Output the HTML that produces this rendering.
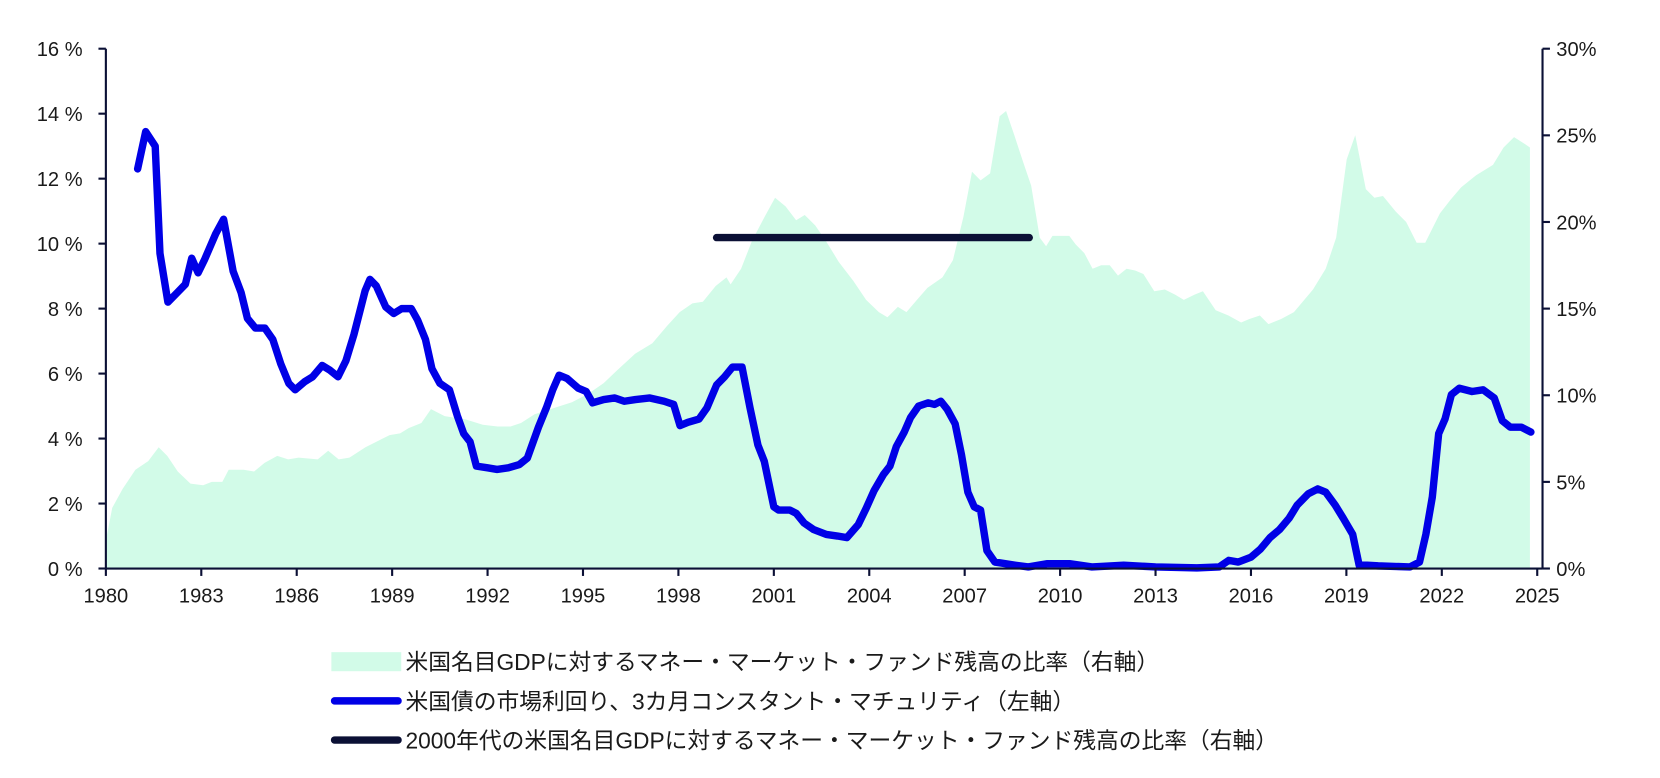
<!DOCTYPE html>
<html><head><meta charset="utf-8"><style>
body{margin:0;background:#fff;}
svg text{font-family:"Liberation Sans","Noto Sans CJK JP",sans-serif;fill:#1a1a1a;}
</style></head><body>
<svg width="1660" height="773"><g id="c" transform="scale(1.0587)"></g></svg>
<script>
const leftTicks=[0,2,4,6,8,10,12,14,16];
const rightTicks=[0,5,10,15,20,25,30];
const yearTicks=[1980,1983,1986,1989,1992,1995,1998,2001,2004,2007,2010,2013,2016,2019,2022,2025];
const mmfYears=[1980.0,1980.2,1980.53,1980.93,1981.33,1981.66,1981.93,1982.26,1982.66,1983.06,1983.33,1983.66,1983.86,1984.33,1984.66,1984.99,1985.39,1985.73,1986.06,1986.66,1986.99,1987.32,1987.66,1988.16,1988.59,1988.92,1989.25,1989.52,1989.92,1990.22,1990.65,1991.32,1991.85,1992.32,1992.72,1993.05,1993.48,1993.98,1994.65,1995.18,1995.65,1996.05,1996.64,1997.18,1997.64,1998.04,1998.44,1998.77,1999.17,1999.51,1999.64,1999.97,2000.31,2000.71,2001.04,2001.37,2001.7,2001.97,2002.3,2002.64,2003.04,2003.5,2003.9,2004.3,2004.57,2004.9,2005.17,2005.5,2005.83,2006.3,2006.63,2006.96,2007.23,2007.5,2007.8,2008.1,2008.3,2008.56,2008.83,2009.09,2009.36,2009.56,2009.76,2009.96,2010.29,2010.49,2010.76,2011.02,2011.29,2011.56,2011.82,2012.09,2012.36,2012.62,2012.96,2013.29,2013.62,2013.89,2014.22,2014.49,2014.89,2015.29,2015.69,2015.95,2016.28,2016.55,2016.95,2017.35,2017.95,2018.35,2018.68,2019.01,2019.28,2019.61,2019.88,2020.15,2020.55,2020.88,2021.21,2021.48,2021.94,2022.28,2022.61,2023.08,2023.61,2023.94,2024.27,2024.61,2024.77];
const mmfValues=[1.6,3.5,4.6,5.7,6.2,7.0,6.5,5.6,4.9,4.8,5.0,5.0,5.7,5.7,5.6,6.1,6.5,6.3,6.4,6.3,6.8,6.3,6.4,7.0,7.4,7.7,7.8,8.1,8.4,9.2,8.8,8.6,8.3,8.2,8.2,8.4,8.9,9.2,9.6,10.1,10.7,11.4,12.4,13.0,14.0,14.8,15.3,15.4,16.3,16.8,16.4,17.3,18.9,20.3,21.4,20.9,20.1,20.4,19.8,18.9,17.7,16.6,15.5,14.8,14.5,15.1,14.8,15.5,16.2,16.8,17.8,20.3,22.9,22.4,22.8,26.1,26.4,25.0,23.5,22.1,19.1,18.6,19.2,19.2,19.2,18.7,18.2,17.3,17.5,17.5,16.9,17.3,17.2,17.0,16.0,16.1,15.8,15.5,15.8,16.0,14.9,14.6,14.2,14.4,14.6,14.1,14.4,14.8,16.1,17.3,19.1,23.6,25.0,21.9,21.4,21.5,20.6,20.0,18.8,18.8,20.5,21.3,22.0,22.7,23.3,24.3,24.9,24.5,24.3];
const tbYears=[1981.0,1981.25,1981.55,1981.7,1981.95,1982.25,1982.5,1982.7,1982.9,1983.1,1983.45,1983.7,1984.0,1984.25,1984.45,1984.7,1985.0,1985.25,1985.5,1985.75,1985.95,1986.25,1986.5,1986.8,1987.05,1987.3,1987.55,1987.8,1988.15,1988.3,1988.5,1988.8,1989.05,1989.3,1989.6,1989.8,1990.05,1990.25,1990.5,1990.8,1991.05,1991.25,1991.45,1991.65,1992.0,1992.3,1992.65,1993.0,1993.25,1993.6,1993.85,1994.05,1994.25,1994.5,1994.85,1995.1,1995.3,1995.65,1996.0,1996.3,1996.65,1997.1,1997.55,1997.85,1998.05,1998.3,1998.65,1998.9,1999.2,1999.45,1999.7,2000.0,2000.25,2000.5,2000.7,2001.0,2001.15,2001.5,2001.7,2001.95,2002.25,2002.65,2003.0,2003.3,2003.65,2003.9,2004.15,2004.45,2004.65,2004.85,2005.1,2005.3,2005.55,2005.85,2006.05,2006.25,2006.45,2006.7,2006.9,2007.1,2007.3,2007.5,2007.7,2007.95,2008.6,2009.0,2009.6,2010.3,2011.0,2012.0,2013.0,2014.3,2015.0,2015.3,2015.6,2016.0,2016.3,2016.6,2016.9,2017.2,2017.45,2017.8,2018.1,2018.35,2018.65,2018.9,2019.2,2019.4,2019.65,2020.0,2021.0,2021.3,2021.5,2021.7,2021.9,2022.1,2022.3,2022.55,2022.95,2023.3,2023.65,2023.9,2024.15,2024.5,2024.8];
const tbValues=[12.3,13.45,13.0,9.7,8.2,8.5,8.75,9.55,9.1,9.5,10.3,10.75,9.15,8.5,7.7,7.4,7.4,7.05,6.3,5.7,5.5,5.75,5.9,6.25,6.1,5.9,6.4,7.2,8.55,8.9,8.7,8.05,7.85,8.0,8.0,7.65,7.05,6.15,5.7,5.5,4.7,4.15,3.9,3.15,3.1,3.05,3.1,3.2,3.4,4.35,4.95,5.5,5.95,5.85,5.55,5.45,5.1,5.2,5.25,5.15,5.2,5.25,5.15,5.05,4.4,4.5,4.6,4.95,5.65,5.9,6.2,6.2,4.95,3.8,3.3,1.9,1.8,1.8,1.7,1.4,1.2,1.05,1.0,0.95,1.35,1.85,2.4,2.9,3.15,3.75,4.2,4.65,5.0,5.1,5.05,5.15,4.9,4.45,3.5,2.35,1.9,1.8,0.55,0.2,0.1,0.05,0.15,0.15,0.05,0.1,0.05,0.02,0.05,0.25,0.2,0.35,0.6,0.95,1.2,1.55,1.95,2.3,2.45,2.35,1.95,1.55,1.05,0.1,0.1,0.08,0.05,0.2,1.05,2.2,4.15,4.6,5.35,5.55,5.45,5.5,5.25,4.55,4.35,4.35,4.2];
const avgYears=[1999.2,2009.03];
const avgValue=[19.1,19.1];

const NS='http://www.w3.org/2000/svg';
const svg=document.getElementById('c');
const X0=100,X1=1452,Y0=537,YT=46;
const xs=y=>X0+(y-1980)/45*(X1-X0);
const yl=v=>Y0-v/16*(Y0-YT);
const yr=v=>Y0-v/30*(Y0-YT);
function mk(t,a,p){const e=document.createElementNS(NS,t);for(const k in a)e.setAttribute(k,a[k]);(p||svg).appendChild(e);return e;}

let d='M'+xs(mmfYears[0])+','+Y0;
mmfYears.forEach((y,i)=>{d+=' L'+xs(y).toFixed(1)+','+yr(mmfValues[i]).toFixed(1);});
d+=' L'+xs(mmfYears[mmfYears.length-1])+','+Y0+' Z';
const area=mk('path',{d:d,fill:'#d2fbe8'});



const avg=mk('line',{x1:xs(avgYears[0]),x2:xs(avgYears[1]),y1:yr(avgValue[0]),y2:yr(avgValue[1]),stroke:'#0b1035','stroke-width':7,'stroke-linecap':'round'});



const pts=tbYears.map((y,i)=>xs(y).toFixed(1)+','+yl(tbValues[i]).toFixed(1)).join(' ');
const tb=mk('polyline',{points:pts,fill:'none',stroke:'#0000e6','stroke-width':7,'stroke-linejoin':'round','stroke-linecap':'round'});



const la=mk('line',{x1:X0,x2:X0,y1:YT,y2:Y0,stroke:'#0b1035','stroke-width':2});


const ra=mk('line',{x1:1457,x2:1457,y1:YT,y2:Y0,stroke:'#0b1035','stroke-width':2});


const xa=mk('line',{x1:X0,x2:1457,y1:Y0,y2:Y0,stroke:'#0b1035','stroke-width':2});



leftTicks.forEach(v=>{
  mk('line',{x1:X0-7,x2:X0,y1:yl(v),y2:yl(v),stroke:'#0b1035','stroke-width':2});
  const t=mk('text',{x:78,y:yl(v)+7,'text-anchor':'end','font-size':19});
  t.textContent=v+' %';
  
  
});
rightTicks.forEach(v=>{
  mk('line',{x1:1457,x2:1464,y1:yr(v),y2:yr(v),stroke:'#0b1035','stroke-width':2});
  const t=mk('text',{x:1470,y:yr(v)+7,'font-size':19});
  t.textContent=v+'%';
  
  
});
yearTicks.forEach(y=>{
  mk('line',{x1:xs(y),x2:xs(y),y1:Y0,y2:Y0+7,stroke:'#0b1035','stroke-width':2});
  const t=mk('text',{x:xs(y),y:569,'text-anchor':'middle','font-size':19});
  t.textContent=y;
  
  
});

const leg=[['rect','米国名目GDPに対するマネー・マーケット・ファンド残高の比率（右軸）','legend-mmf-ratio'],
['blue','米国債の市場利回り、3カ月コンスタント・マチュリティ（左軸）','legend-treasury-yield'],
['black','2000年代の米国名目GDPに対するマネー・マーケット・ファンド残高の比率（右軸）','legend-2000s-average']];
leg.forEach((l,i)=>{
  const cy=625+i*37;
  const g=mk('g',{});
  
  
  if(l[0]==='rect') mk('rect',{x:313,y:cy-9,width:66,height:18,fill:'#d2fbe8'},g);
  else mk('line',{x1:316,x2:376,y1:cy,y2:cy,stroke:l[0]==='blue'?'#0000e6':'#0b1035','stroke-width':7,'stroke-linecap':'round'},g);
  const t=mk('text',{x:383,y:cy+8,'font-size':21.5},g);
  t.textContent=l[1];
});
</script>
</body></html>
